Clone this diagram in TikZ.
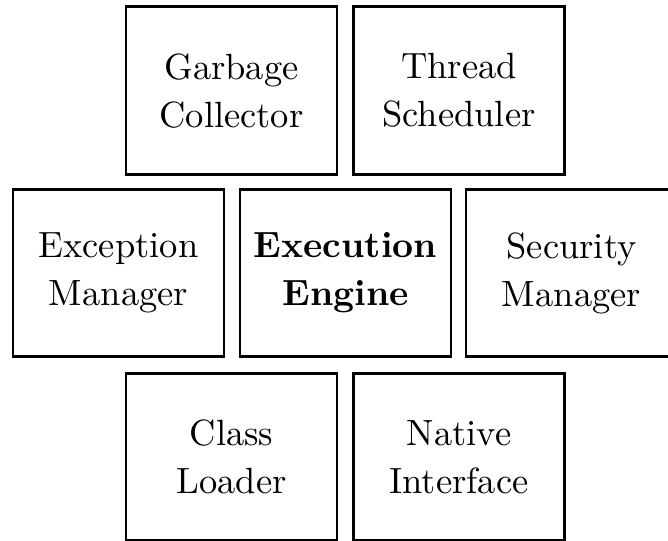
\documentclass[tikz,border=0pt]{standalone}
\usepackage{fontspec}
\setmainfont{lmroman10-regular.otf}[BoldFont=lmroman10-bold.otf]
\usepackage{tikz}
\begin{document}
\begin{tikzpicture}[x=1pt,y=-1pt,
  module/.style={draw=black, line width=2.8pt, fill=white, align=center,
    minimum width=211pt, minimum height=167.5pt, inner sep=0pt, outer sep=0pt,
    font=\fontsize{36.5}{48}\selectfont}]
  \useasboundingbox (0,0) rectangle (668,540);
  \begin{scope}
    \clip (0,0) rectangle (668,540);
    % top row
    \node[module] (gc) at (231.5,90.6) {Garbage\\Collector};
    \node[module] (ts) at (459,90.6) {Thread\\Scheduler};
    % middle row
    \node[module] (em) at (118.5,273) {Exception\\Manager};
    \node[module, font=\fontsize{36.5}{48}\selectfont\bfseries] (ee) at (345.5,273) {Execution\\Engine};
    \node[module] (sm) at (571.5,273) {Security\\Manager};
    % bottom row
    \node[module] (cl) at (231.5,457) {Class\\Loader};
    \node[module] (ni) at (459,457) {Native\\Interface};
  \end{scope}
\end{tikzpicture}
\end{document}
